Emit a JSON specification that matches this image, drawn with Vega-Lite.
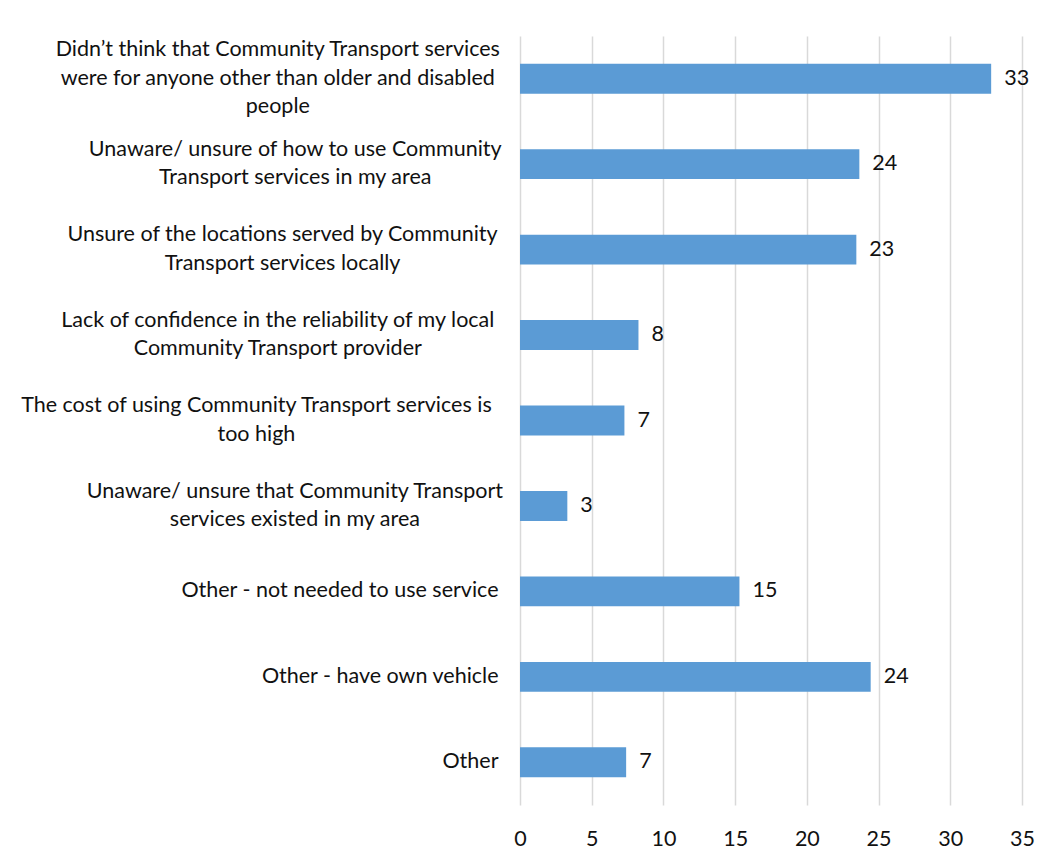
{
  "$schema": "https://vega.github.io/schema/vega-lite/v6.json",
  "width": 502,
  "height": 769,
  "autosize": {"type": "none"},
  "padding": {"left": 520, "top": 36, "right": 35, "bottom": 57},
  "background": "white",
  "config": {
    "view": {"stroke": null},
    "font": "Lato",
    "axis": {"labelFont": "Lato", "labelColor": "#111111"}
  },
  "data": {
    "values": [
      {"reason": "Didn’t think that Community Transport services\nwere for anyone other than older and disabled\npeople", "value": 32.85},
      {"reason": "Unaware/ unsure of how to use Community\nTransport services in my area", "value": 23.66},
      {"reason": "Unsure of the locations served by Community\nTransport services locally", "value": 23.45},
      {"reason": "Lack of confidence in the reliability of my local\nCommunity Transport provider", "value": 8.26},
      {"reason": "The cost of using Community Transport services is\ntoo high", "value": 7.28},
      {"reason": "Unaware/ unsure that Community Transport\nservices existed in my area", "value": 3.3},
      {"reason": "Other - not needed to use service", "value": 15.3},
      {"reason": "Other - have own vehicle", "value": 24.45},
      {"reason": "Other", "value": 7.4}
    ]
  },
  "encoding": {
    "y": {
      "field": "reason",
      "type": "nominal",
      "sort": null,
      "title": null,
      "scale": {"paddingInner": 0.65, "paddingOuter": 0.325},
      "axis": {
        "domain": false,
        "ticks": false,
        "labelExpr": "split(datum.label, '\\n')",
        "labelFontSize": 21.5,
        "labelLineHeight": 28.5,
        "labelLimit": 520,
        "labelAlign": {"expr": "length(split(datum.label, '\\n')) > 1 ? 'center' : 'right'"},
        "labelPadding": {"expr": "length(split(datum.label,'\\n'))>1 ? 22+10.75*max((0.56*length(split(datum.label,'\\n')[0])-0.31*length(replace(split(datum.label,'\\n')[0],regexp('[^iltfjr ’/I-]','g'),''))+0.22*length(replace(split(datum.label,'\\n')[0],regexp('[^mwMWCO]','g'),''))),(0.56*length(split(datum.label,'\\n')[1]||'')-0.31*length(replace(split(datum.label,'\\n')[1]||'',regexp('[^iltfjr ’/I-]','g'),''))+0.22*length(replace(split(datum.label,'\\n')[1]||'',regexp('[^mwMWCO]','g'),''))),(0.56*length(split(datum.label,'\\n')[2]||'')-0.31*length(replace(split(datum.label,'\\n')[2]||'',regexp('[^iltfjr ’/I-]','g'),''))+0.22*length(replace(split(datum.label,'\\n')[2]||'',regexp('[^mwMWCO]','g'),'')))) : 22"},
        "labelBaseline": "middle",
        "labelOffset": {"expr": "-(length(split(datum.label, '\\n')) - 1) * 14.25"}
      }
    },
    "x": {
      "field": "value",
      "type": "quantitative",
      "title": null,
      "scale": {"domain": [0, 35], "nice": false},
      "axis": {
        "values": [0, 5, 10, 15, 20, 25, 30, 35],
        "domain": false,
        "ticks": false,
        "grid": true,
        "gridColor": "#d9d9d9",
        "gridWidth": 1.5,
        "labelFontSize": 21.5,
        "labelPadding": 23,
        "labelFlush": false
      }
    }
  },
  "layer": [
    {"mark": {"type": "bar", "color": "#5b9bd5"}},
    {
      "mark": {"type": "text", "align": "left", "dx": 13, "fontSize": 21.5, "font": "Lato", "color": "#111111"},
      "encoding": {"text": {"field": "value", "type": "quantitative", "format": ".0f"}}
    }
  ]
}
